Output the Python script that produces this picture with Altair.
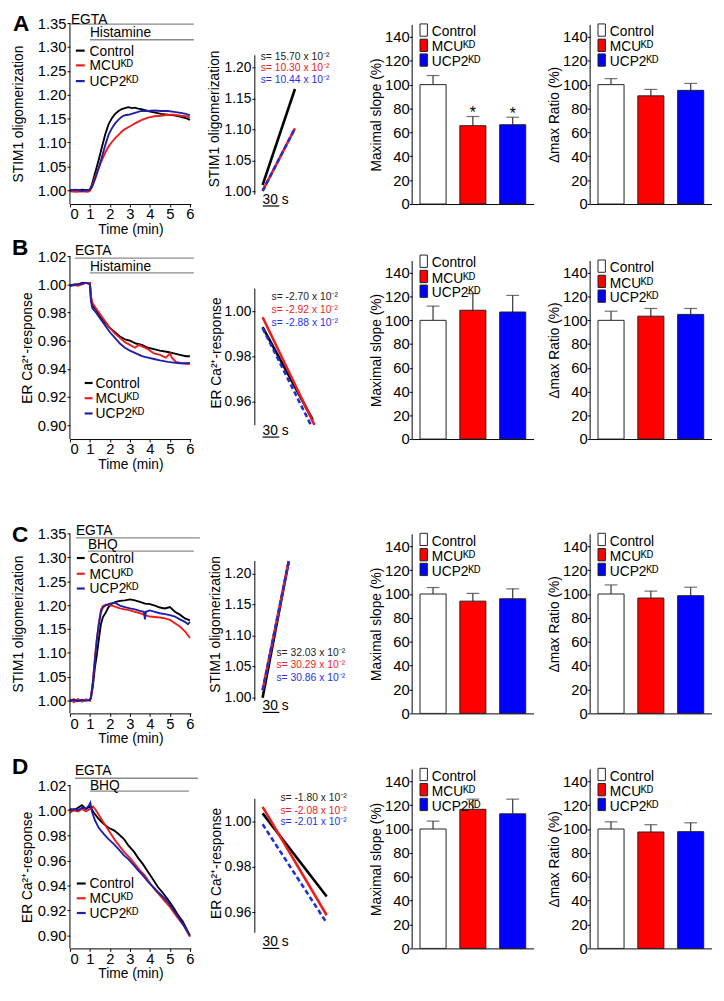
import altair as alt
import pandas as pd

FONT = "Liberation Sans"
GROUPS = ["Control", "MCUᴷᴰ", "UCP2ᴷᴰ"]
TRACE_COLORS = ["#000000", "#ee1c1c", "#1f1fa8"]
SLOPE_COLORS = ["#000000", "#ee1c1c", "#1f2fd8"]
TEXT_COLORS = ["#222222", "#ee2222", "#2233ee"]
BAR_COLORS = ["#ffffff", "#ff0000", "#0000ff"]
C0, C1, C2 = GROUPS

# ---------------- time-course traces (time in min, response) ----------------
A_T = {
    C0: [0, 0.3, 0.6, 0.9, 1.0, 1.1, 1.25, 1.44, 1.61, 1.77, 1.93, 2.1, 2.26, 2.43, 2.59, 2.75, 2.92, 3.1, 3.25, 3.4, 3.57, 3.9, 4.2, 4.56, 4.9, 5.21, 5.5, 5.87, 6.0],
    C1: [0, 0.3, 0.6, 0.9, 1.0, 1.1, 1.28, 1.45, 1.61, 1.77, 1.93, 2.1, 2.26, 2.43, 2.59, 2.75, 2.92, 3.1, 3.25, 3.57, 3.9, 4.23, 4.56, 4.89, 5.21, 5.54, 5.8, 6.0],
    C2: [0, 0.3, 0.6, 0.9, 1.0, 1.1, 1.28, 1.45, 1.61, 1.77, 1.93, 2.1, 2.26, 2.43, 2.59, 2.75, 2.92, 3.25, 3.57, 3.9, 4.23, 4.56, 4.89, 5.21, 5.54, 5.8, 6.0],
}
A_V = {
    C0: [1.000, 0.999, 1.001, 1.000, 1.002, 1.012, 1.035, 1.064, 1.092, 1.118, 1.138, 1.151, 1.160, 1.166, 1.170, 1.172, 1.174, 1.172, 1.173, 1.171, 1.170, 1.166, 1.163, 1.160, 1.158, 1.157, 1.154, 1.150, 1.147],
    C1: [0.998, 0.997, 0.998, 0.997, 0.999, 1.008, 1.030, 1.048, 1.064, 1.079, 1.092, 1.101, 1.109, 1.116, 1.123, 1.128, 1.132, 1.136, 1.140, 1.147, 1.152, 1.155, 1.156, 1.158, 1.158, 1.156, 1.155, 1.152],
    C2: [1.000, 1.001, 0.999, 1.000, 1.001, 1.006, 1.026, 1.048, 1.071, 1.095, 1.116, 1.130, 1.140, 1.148, 1.154, 1.157, 1.158, 1.162, 1.166, 1.166, 1.167, 1.166, 1.166, 1.164, 1.162, 1.160, 1.157],
}
B_T = {
    C0: [0, 0.2, 0.4, 0.6, 0.8, 1.0, 1.05, 1.12, 1.3, 1.5, 1.75, 2.0, 2.25, 2.5, 2.75, 3.0, 3.3, 3.6, 3.9, 4.2, 4.5, 4.9, 5.2, 5.5, 5.8, 6.0],
    C1: [0, 0.2, 0.4, 0.6, 0.8, 1.0, 1.05, 1.12, 1.3, 1.5, 1.75, 2.0, 2.25, 2.5, 2.75, 3.0, 3.25, 3.45, 3.6, 3.9, 4.2, 4.5, 4.8, 5.0, 5.1, 5.3, 5.6, 6.0],
    C2: [0, 0.2, 0.4, 0.6, 0.8, 1.0, 1.05, 1.12, 1.3, 1.5, 1.75, 2.0, 2.25, 2.5, 2.75, 3.0, 3.3, 3.6, 3.9, 4.2, 4.5, 4.9, 5.2, 5.5, 5.8, 6.0],
}
B_V = {
    C0: [0.999, 1.000, 1.000, 1.001, 1.001, 1.001, 0.990, 0.985, 0.982, 0.978, 0.973, 0.969, 0.966, 0.963, 0.961, 0.960, 0.958, 0.957, 0.955, 0.954, 0.953, 0.952, 0.951, 0.950, 0.949, 0.949],
    C1: [0.999, 0.9995, 0.999, 1.000, 1.001, 1.001, 0.992, 0.987, 0.983, 0.979, 0.974, 0.969, 0.965, 0.962, 0.959, 0.957, 0.955, 0.957, 0.956, 0.954, 0.951, 0.950, 0.948, 0.951, 0.948, 0.945, 0.944, 0.9435],
    C2: [0.999, 0.9995, 1.000, 1.0005, 1.001, 1.000, 0.988, 0.983, 0.980, 0.976, 0.971, 0.966, 0.962, 0.958, 0.955, 0.953, 0.951, 0.949, 0.948, 0.947, 0.946, 0.945, 0.9445, 0.944, 0.944, 0.9443],
}
C_T = {
    C0: [0, 0.2, 0.4, 0.6, 0.8, 1.0, 1.05, 1.15, 1.25, 1.36, 1.45, 1.55, 1.65, 1.8, 1.93, 2.1, 2.3, 2.5, 2.75, 3.0, 3.25, 3.5, 3.75, 4.0, 4.25, 4.5, 4.75, 5.0, 5.25, 5.5, 5.75, 6.0],
    C1: [0, 0.2, 0.4, 0.6, 0.8, 1.0, 1.05, 1.15, 1.25, 1.35, 1.45, 1.55, 1.65, 1.8, 2.0, 2.25, 2.5, 2.75, 3.0, 3.25, 3.5, 3.75, 4.0, 4.25, 4.5, 4.75, 5.0, 5.25, 5.5, 5.75, 6.0],
    C2: [0, 0.2, 0.4, 0.6, 0.8, 1.0, 1.05, 1.15, 1.25, 1.35, 1.45, 1.55, 1.65, 1.8, 2.0, 2.25, 2.5, 2.75, 3.0, 3.25, 3.5, 3.7, 3.75, 3.8, 4.0, 4.25, 4.5, 4.75, 5.0, 5.25, 5.5, 5.75, 5.9, 6.0],
}
C_V = {
    C0: [1.000, 0.998, 1.000, 0.999, 1.001, 1.000, 1.005, 1.030, 1.070, 1.100, 1.130, 1.160, 1.175, 1.185, 1.196, 1.203, 1.207, 1.209, 1.210, 1.212, 1.210, 1.207, 1.203, 1.202, 1.199, 1.195, 1.193, 1.196, 1.186, 1.180, 1.172, 1.168],
    C1: [1.002, 0.996, 1.003, 0.997, 1.002, 0.999, 1.008, 1.040, 1.090, 1.130, 1.165, 1.190, 1.198, 1.201, 1.200, 1.197, 1.193, 1.191, 1.189, 1.186, 1.183, 1.179, 1.176, 1.175, 1.174, 1.172, 1.169, 1.162, 1.155, 1.145, 1.131],
    C2: [0.999, 1.002, 0.998, 1.001, 0.999, 1.001, 1.006, 1.040, 1.085, 1.130, 1.160, 1.185, 1.195, 1.200, 1.203, 1.205, 1.199, 1.196, 1.193, 1.191, 1.188, 1.186, 1.170, 1.186, 1.189, 1.186, 1.183, 1.181, 1.179, 1.176, 1.170, 1.165, 1.160, 1.165],
}
D_T = {
    C0: [0, 0.2, 0.4, 0.6, 0.8, 1.0, 1.2, 1.44, 1.7, 1.93, 2.2, 2.43, 2.7, 2.92, 3.2, 3.41, 3.65, 3.9, 4.15, 4.39, 4.65, 4.89, 5.15, 5.38, 5.65, 6.0],
    C1: [0, 0.2, 0.4, 0.6, 0.8, 1.0, 1.15, 1.3, 1.61, 1.93, 2.26, 2.5, 2.75, 3.0, 3.25, 3.5, 3.74, 4.0, 4.23, 4.5, 4.72, 5.0, 5.21, 5.5, 5.7, 6.0],
    C2: [0, 0.2, 0.4, 0.6, 0.8, 0.95, 1.02, 1.1, 1.25, 1.44, 1.7, 1.93, 2.2, 2.43, 2.7, 2.92, 3.2, 3.41, 3.65, 3.9, 4.15, 4.39, 4.65, 4.89, 5.15, 5.38, 5.65, 6.0],
}
D_V = {
    C0: [1.001, 1.000, 1.002, 1.004, 1.001, 1.003, 0.998, 0.993, 0.989, 0.986, 0.984, 0.981, 0.977, 0.972, 0.967, 0.962, 0.957, 0.951, 0.945, 0.939, 0.934, 0.929, 0.923, 0.917, 0.911, 0.900],
    C1: [0.998, 1.000, 0.999, 1.001, 0.999, 1.001, 1.003, 1.000, 0.992, 0.984, 0.976, 0.971, 0.966, 0.962, 0.957, 0.952, 0.948, 0.942, 0.937, 0.932, 0.928, 0.923, 0.918, 0.912, 0.908, 0.899],
    C2: [1.000, 1.001, 1.000, 1.002, 1.001, 1.004, 1.006, 0.999, 0.992, 0.986, 0.981, 0.977, 0.973, 0.969, 0.964, 0.961, 0.956, 0.952, 0.948, 0.943, 0.939, 0.935, 0.931, 0.927, 0.921, 0.916, 0.909, 0.900],
}

# treatments: label, start (min), end (min)
TREAT = {
    "A": [("EGTA", 0.05, 6.2), ("Histamine", 1.0, 6.2)],
    "B": [("EGTA", 0.25, 6.2), ("Histamine", 1.0, 6.2)],
    "C": [("EGTA", 0.3, 6.5), ("BHQ", 0.9, 6.2)],
    "D": [("EGTA", 0.25, 6.4), ("BHQ", 1.0, 5.95)],
}

# ---------------- slope fits (time in s, response) ----------------
SLOPE_T0 = {"A": 14, "B": 14, "C": 14, "D": 14}
SLOPE_T1 = {
    "A": {C0: 72, C1: 72, C2: 72},
    "B": {C0: 104, C1: 107, C2: 100},
    "C": {C0: 61, C1: 61, C2: 61},
    "D": {C0: 129, C1: 129, C2: 129},
}
SLOPE_V = {
    "A": {C0: [1.0105, 1.1655], C1: [1.001, 1.102], C2: [1.001, 1.102]},
    "B": {C0: [0.993, 0.952], C1: [0.9973, 0.9497], C2: [0.9925, 0.950]},
    "C": {C0: [1.000, 1.220], C1: [1.012, 1.220], C2: [1.012, 1.220]},
    "D": {C0: [1.0036, 0.967], C1: [1.0065, 0.9587], C2: [0.9988, 0.9553]},
}
SLOPE_LABELS = {
    "A": ["s= 15.70 x 10⁻²", "s= 10.30 x 10⁻²", "s= 10.44 x 10⁻²"],
    "B": ["s= -2.70 x 10⁻²", "s= -2.92 x 10⁻²", "s= -2.88 x 10⁻²"],
    "C": ["s= 32.03 x 10⁻²", "s= 30.29 x 10⁻²", "s= 30.86 x 10⁻²"],
    "D": ["s= -1.80 x 10⁻²", "s= -2.08 x 10⁻²", "s= -2.01 x 10⁻²"],
}

# ---------------- bar data (%), mean and SEM ----------------
SLOPE_MEAN = {"A": [100, 65.6, 66.4], "B": [100, 108.5, 107], "C": [100, 94, 96], "D": [100, 116.5, 112.7]}
SLOPE_ERR = {"A": [7.6, 7.7, 6.3], "B": [12, 14, 14], "C": [5.4, 6.5, 8.3], "D": [6.6, 8.5, 12.3]}
SLOPE_SIG = {"A": ["", "*", "*"], "B": ["", "", ""], "C": ["", "", ""], "D": ["", "", ""]}
DMAX_MEAN = {"A": [100, 90.6, 95.2], "B": [100, 103.5, 105], "C": [100, 96.6, 98.6], "D": [100, 97.5, 97.8]}
DMAX_ERR = {"A": [5, 5.4, 5.8], "B": [7.7, 6.5, 5], "C": [7.6, 5.8, 7.1], "D": [6, 6.1, 7.4]}

TIME_TICKS_STIM = [1.00, 1.05, 1.10, 1.15, 1.20, 1.25, 1.30, 1.35]
TIME_TICKS_ER = [0.90, 0.92, 0.94, 0.96, 0.98, 1.00, 1.02]
SLOPE_TICKS_STIM = [1.00, 1.05, 1.10, 1.15, 1.20]
SLOPE_TICKS_ER = [0.96, 0.98, 1.00]
BAR_TICKS = [0, 20, 40, 60, 80, 100, 120, 140]
TIME_X_TICKS = [0, 1, 2, 3, 4, 5, 6]
STIM_TITLE = "STIM1 oligomerization"
ER_TITLE = "ER Ca²⁺-response"

# ---------------- layout ----------------
ROWS = ["A", "B", "C", "D"]
CELL = {"A": (18, 202), "B": (255, 441), "C": (494, 720), "D": (773, 959)}
W_TIME, W_SLOPE, W_BAR = 123, 95, 116
COL_SP, ROW_SP = 65, 53

# treat: (text top y, line y) in px from panel top; letter: (x, top y)
TIME_CFG = {
    "A": dict(ref=(1.00, 188, 1.35, 18), ticks=TIME_TICKS_STIM, top=1.35, title=STIM_TITLE, titleX=-45,
              letter=(-58, -10), leg=(6, 15, 20, [33, 48, 64]), treat=[(-10, 1), (3, 17)]),
    "B": dict(ref=(0.90, 427, 1.02, 255), ticks=TIME_TICKS_ER, top=1.02, title=ER_TITLE, titleX=-36,
              letter=(-59, -19.5), leg=(15, 23, 26, [134, 149.5, 165]), treat=[(-12, 2), (4, 17)]),
    "C": dict(ref=(1.00, 706.7, 1.35, 537.3), ticks=TIME_TICKS_STIM, top=1.35, title=STIM_TITLE, titleX=-45,
              letter=(-59, 33.5), leg=(7, 15, 20, [73, 89, 104]), treat=[(34, 47.5), (48, 61)]),
    "D": dict(ref=(0.90, 946, 1.02, 793), ticks=TIME_TICKS_ER, top=1.02, title=ER_TITLE, titleX=-36,
              letter=(-59, -9.5), leg=(7, 16, 20, [125, 140, 155]), treat=[(-1, 13), (13.5, 26)]),
}
SLOPE_CFG = {
    "A": dict(ref=(1.00, 189.3, 1.20, 63.3), ticks=SLOPE_TICKS_STIM, axis=(0.995, 1.22), title=STIM_TITLE,
              titleX=-34, titleY=97, tx=6, ty=[37.5, 49, 61], bar=(184, 186)),
    "B": dict(ref=(0.96, 403, 1.00, 311), ticks=SLOPE_TICKS_ER, axis=(0.9496, 1.01), title=ER_TITLE,
              titleX=-32, titleY=98, tx=17, ty=[45, 58, 71], bar=(182, 184)),
    "C": dict(ref=(1.00, 704, 1.20, 577.7), ticks=SLOPE_TICKS_STIM, axis=(0.995, 1.22), title=STIM_TITLE,
              titleX=-33, titleY=135, tx=22, ty=[168, 180, 193], bar=(223, 225)),
    "D": dict(ref=(0.96, 922.3, 1.00, 830), ticks=SLOPE_TICKS_ER, axis=(0.951, 1.01), title=ER_TITLE,
              titleX=-32, titleY=99, tx=26, ty=[36.5, 49, 60.5], bar=(184, 186)),
}
BAR_REF = {"A": (0, 202, 140, 32), "B": (0, 441, 140, 272), "C": (0, 720, 140, 550), "D": (0, 959, 140, 789)}
BAR_LEG_DY = {("B", "slope"): -5}


def make_domain(cell, va, pa, vb, pb):
    top, bot = cell
    ppu = (pa - pb) / (vb - va)
    return [va - (bot - pa) / ppu, va + (pa - top) / ppu], ppu


def rel_px(cell, va, pa, ppu, v):
    return pa - cell[0] + (va - v) * ppu


def trace_frame(T, V):
    rows = []
    for g in GROUPS:
        for t, v in zip(T[g], V[g]):
            rows.append({"g": g, "t": t, "v": v})
    return pd.DataFrame(rows)


def time_panel(k, T, V):
    cfg = TIME_CFG[k]
    cell = CELL[k]
    h = cell[1] - cell[0]
    dom, ppu = make_domain(cell, *cfg["ref"])
    top_px = rel_px(cell, cfg["ref"][2], cfg["ref"][3], ppu, cfg["top"])
    titleY = (top_px + h) / 2

    def xe(f):
        return alt.X(f, type="quantitative", scale=alt.Scale(domain=[0, 6.05], nice=False, zero=False),
                     axis=alt.Axis(values=TIME_X_TICKS, title="Time (min)", format="d", tickSize=3,
                                   labelPadding=0, titlePadding=1, labelFontSize=15, grid=False))

    def ye(f):
        return alt.Y(f, type="quantitative", scale=alt.Scale(domain=dom, nice=False, zero=False),
                     axis=alt.Axis(values=cfg["ticks"], format=".2f", domain=False, tickSize=3, labelPadding=1,
                                   labelFontSize=15, title=cfg["title"], titleX=cfg["titleX"], titleY=titleY,
                                   grid=False))

    cscale = alt.Scale(domain=GROUPS, range=TRACE_COLORS)
    df = trace_frame(T, V)
    layers = [
        alt.Chart(df).mark_line(strokeWidth=1.9).encode(
            x=xe("t"), y=ye("v"), color=alt.Color("g:N", scale=cscale, legend=None)),
        alt.Chart(pd.DataFrame({"lo": [dom[0]], "hi": [cfg["top"]]})).mark_rule(color="black", strokeWidth=1).encode(
            x=alt.value(0), y=ye("lo"), y2=alt.Y2("hi:Q")),
    ]
    leg = pd.DataFrame({"g": GROUPS})
    sx0, sx1, tx, bys = cfg["leg"]
    for i, g in enumerate(GROUPS):
        sub = alt.Chart(leg).transform_filter(alt.datum.g == g)
        layers.append(sub.mark_rule(strokeWidth=2.2).encode(
            x=alt.value(sx0), x2=alt.value(sx1), y=alt.value(bys[i] - 5),
            color=alt.Color("g:N", scale=cscale, legend=None)))
        layers.append(sub.mark_text(align="left", baseline="alphabetic", fontSize=14, font=FONT, color="black").encode(
            x=alt.value(tx), y=alt.value(bys[i]), text="g:N"))
    for (lab, s, e), (ty, ly) in zip(TREAT[k], cfg["treat"]):
        tdf = pd.DataFrame({"label": [lab], "start": [s], "end": [e]})
        layers.append(alt.Chart(tdf).mark_rule(color="#8a8a8a", strokeWidth=1.4).encode(
            x=xe("start"), x2=alt.X2("end:Q"), y=alt.value(ly)))
        layers.append(alt.Chart(tdf).mark_text(align="left", baseline="top", fontSize=14, font=FONT,
                                               color="black").encode(
            x=xe("start"), y=alt.value(ty), text="label:N"))
    lx, ly = cfg["letter"]
    layers.append(alt.Chart(pd.DataFrame({"letter": [k]})).mark_text(
        align="left", baseline="top", fontSize=23, fontWeight="bold", font=FONT, color="black").encode(
        x=alt.value(lx), y=alt.value(ly), text="letter:N"))
    return alt.layer(*layers).properties(width=W_TIME, height=h)


def slope_panel(k):
    cfg = SLOPE_CFG[k]
    cell = CELL[k]
    h = cell[1] - cell[0]
    dom, ppu = make_domain(cell, *cfg["ref"])
    xs = alt.Scale(domain=[0, W_SLOPE * 30 / 17], nice=False, zero=False)

    def xe(f):
        return alt.X(f, type="quantitative", scale=xs, axis=None)

    def ye(f):
        return alt.Y(f, type="quantitative", scale=alt.Scale(domain=dom, nice=False, zero=False),
                     axis=alt.Axis(values=cfg["ticks"], format=".2f", domain=False, tickSize=3, labelPadding=1,
                                   labelFontSize=14, title=cfg["title"], titleX=cfg["titleX"],
                                   titleY=cfg["titleY"], grid=False))

    rows = []
    for g in GROUPS:
        v0, v1 = SLOPE_V[k][g]
        rows.append({"g": g, "t": SLOPE_T0[k], "v": v0})
        rows.append({"g": g, "t": SLOPE_T1[k][g], "v": v1})
    df = pd.DataFrame(rows)
    layers = [
        alt.Chart(pd.DataFrame({"lo": [cfg["axis"][0]], "hi": [cfg["axis"][1]]})).mark_rule(
            color="black", strokeWidth=1).encode(x=alt.value(0), y=ye("lo"), y2=alt.Y2("hi:Q")),
    ]
    for i, g in enumerate(GROUPS):
        mk = dict(strokeWidth=2.6, color=SLOPE_COLORS[i], clip=True)
        if i == 2:
            mk["strokeDash"] = [5, 3]
        layers.append(alt.Chart(df).transform_filter(alt.datum.g == g).mark_line(**mk).encode(
            x=xe("t"), y=ye("v")))
    ldf = pd.DataFrame({"g": GROUPS, "label": SLOPE_LABELS[k]})
    for i, g in enumerate(GROUPS):
        layers.append(alt.Chart(ldf).transform_filter(alt.datum.g == g).mark_text(
            align="left", baseline="alphabetic", fontSize=10.5, font=FONT, color=TEXT_COLORS[i]).encode(
            x=alt.value(cfg["tx"]), y=alt.value(cfg["ty"][i]), text="label:N"))
    sb = pd.DataFrame({"s0": [14], "s1": [44], "label": ["30 s"]})
    layers.append(alt.Chart(sb).mark_rule(color="black", strokeWidth=1.2).encode(
        x=xe("s0"), x2=alt.X2("s1:Q"), y=alt.value(cfg["bar"][1])))
    layers.append(alt.Chart(sb).mark_text(align="left", baseline="alphabetic", fontSize=14, font=FONT,
                                          color="black").encode(
        x=xe("s0"), y=alt.value(cfg["bar"][0]), text="label:N"))
    return alt.layer(*layers).properties(width=W_SLOPE, height=h)


def bar_panel(k, kind):
    cell = CELL[k]
    h = cell[1] - cell[0]
    ref = BAR_REF[k]
    dom, ppu = make_domain(cell, *ref)
    p150 = rel_px(cell, ref[0], ref[1], ppu, 150)
    titleY = (p150 + h) / 2
    if kind == "slope":
        means, errs, sig, title = SLOPE_MEAN[k], SLOPE_ERR[k], SLOPE_SIG[k], "Maximal slope (%)"
    else:
        means, errs, sig, title = DMAX_MEAN[k], DMAX_ERR[k], ["", "", ""], "Δmax Ratio (%)"
    df = pd.DataFrame({"g": GROUPS, "mean": means, "err": errs, "sig": sig})
    xenc = alt.X("g:N", sort=GROUPS,
                 scale=alt.Scale(domain=GROUPS, range=[0, 123.5], paddingInner=0.346, paddingOuter=0.1975),
                 axis=alt.Axis(labels=False, ticks=False, domain=True, title=None, grid=False))

    def ye(f):
        return alt.Y(f, type="quantitative", scale=alt.Scale(domain=dom, nice=False, zero=False),
                     axis=alt.Axis(values=BAR_TICKS, format="d", domain=False, tickSize=3, labelPadding=0,
                                   labelFontSize=15, title=title, titleX=-29, titleY=titleY, grid=False))

    fscale = alt.Scale(domain=GROUPS, range=BAR_COLORS)
    base = alt.Chart(df).transform_calculate(top="datum.mean + datum.err")
    layers = [
        base.mark_rule(color="#333333", strokeWidth=1.2).encode(x=xenc, y=ye("mean"), y2=alt.Y2("top:Q")),
        base.mark_tick(color="#333333", thickness=1.2, size=13).encode(x=xenc, y=ye("top")),
        base.mark_bar(stroke="#222222", strokeWidth=1).encode(
            x=xenc, y=ye("mean"), y2=alt.datum(0), fill=alt.Fill("g:N", scale=fscale, legend=None)),
        base.mark_text(baseline="alphabetic", dy=2, fontSize=16, font=FONT, color="black").encode(
            x=xenc, y=ye("top"), text="sig:N"),
        alt.Chart(pd.DataFrame({"lo": [dom[0]], "hi": [150]})).mark_rule(color="black", strokeWidth=1).encode(
            x=alt.value(0), y=ye("lo"), y2=alt.Y2("hi:Q")),
    ]
    leg = pd.DataFrame({"g": GROUPS})
    dy = BAR_LEG_DY.get((k, kind), 0)
    offs = [-1, 14.5, 29.5]
    for i, g in enumerate(GROUPS):
        y0 = p150 + offs[i] + dy
        sub = alt.Chart(leg).transform_filter(alt.datum.g == g)
        layers.append(sub.mark_rect(stroke="#222222", strokeWidth=1).encode(
            x=alt.value(8), x2=alt.value(15.5), y=alt.value(y0), y2=alt.value(y0 + 12.5),
            fill=alt.Fill("g:N", scale=fscale, legend=None)))
        layers.append(sub.mark_text(align="left", baseline="alphabetic", fontSize=14, font=FONT,
                                    color="black").encode(
            x=alt.value(20), y=alt.value(y0 + 12.5), text="g:N"))
    return alt.layer(*layers).properties(width=W_BAR, height=h)


DATA = {"A": (A_T, A_V), "B": (B_T, B_V), "C": (C_T, C_V), "D": (D_T, D_V)}
panels = []
for k in ROWS:
    panels += [time_panel(k, *DATA[k]), slope_panel(k), bar_panel(k, "slope"), bar_panel(k, "dmax")]

chart = alt.concat(*panels, columns=4, spacing={"row": ROW_SP, "column": COL_SP},
                   bounds="flush", align="each").properties(
    padding={"left": 4, "top": -3, "right": 4, "bottom": 4}
).configure(font=FONT).configure_view(stroke=None).configure_axis(
    labelFont=FONT, titleFont=FONT, titleFontSize=14, titleFontWeight="normal", labelColor="black",
    titleColor="black", tickColor="black", domainColor="black", grid=False)

chart.save("out.html", embed_options={"renderer": "svg", "actions": False})
